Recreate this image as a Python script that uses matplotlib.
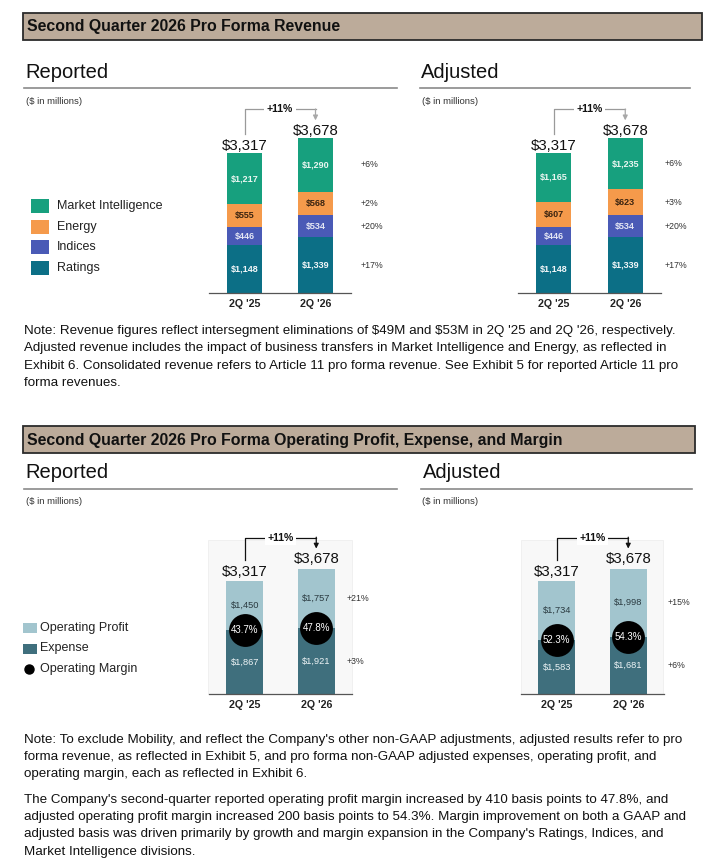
"""
Second Quarter 2026 pro forma revenue / operating profit panels
"""
import matplotlib
matplotlib.use("Agg")
import matplotlib.pyplot as plt
from matplotlib import font_manager
from matplotlib.patches import Rectangle

plt.rcParams['font.family'] = ['Liberation Sans', 'DejaVu Sans']
plt.rcParams['text.parse_math'] = False

# ==================== DATA ====================
periods = ["2Q '25", "2Q '26"]
segments = ['Ratings', 'Indices', 'Energy', 'Market Intelligence']  # bottom -> top

rev_reported = {
    'Ratings': [1148, 1339],
    'Indices': [446, 534],
    'Energy': [555, 568],
    'Market Intelligence': [1217, 1290],
}
rev_adjusted = {
    'Ratings': [1148, 1339],
    'Indices': [446, 534],
    'Energy': [607, 623],
    'Market Intelligence': [1165, 1235],
}
rev_totals = [3317, 3678]
rev_growth_reported = {'Ratings': '+17%', 'Indices': '+20%', 'Energy': '+2%', 'Market Intelligence': '+6%'}
rev_growth_adjusted = {'Ratings': '+17%', 'Indices': '+20%', 'Energy': '+3%', 'Market Intelligence': '+6%'}

op_totals = [3317, 3678]

op_expense_reported = [1867, 1921]
op_profit_reported = [1450, 1757]
op_margin_reported = ['43.7%', '47.8%']
op_growth_reported = ['+21%', '+3%']   # profit, expense

op_expense_adjusted = [1583, 1681]
op_profit_adjusted = [1734, 1998]
op_margin_adjusted = ['52.3%', '54.3%']
op_growth_adjusted = ['+15%', '+6%']

total_growth = '+11%'

note_revenue = [
    "Note: Revenue figures reflect intersegment eliminations of $49M and $53M in 2Q '25 and 2Q '26, respectively.",
    "Adjusted revenue includes the impact of business transfers in Market Intelligence and Energy, as reflected in",
    "Exhibit 6. Consolidated revenue refers to Article 11 pro forma revenue. See Exhibit 5 for reported Article 11 pro",
    "forma revenues.",
]
note_op = [
    "Note: To exclude Mobility, and reflect the Company's other non-GAAP adjustments, adjusted results refer to pro",
    "forma revenue, as reflected in Exhibit 5, and pro forma non-GAAP adjusted expenses, operating profit, and",
    "operating margin, each as reflected in Exhibit 6.",
]
note_margin = [
    "The Company's second-quarter reported operating profit margin increased by 410 basis points to 47.8%, and",
    "adjusted operating profit margin increased 200 basis points to 54.3%. Margin improvement on both a GAAP and",
    "adjusted basis was driven primarily by growth and margin expansion in the Company's Ratings, Indices, and",
    "Market Intelligence divisions.",
]

# ==================== STYLE ====================
seg_colors = {
    'Market Intelligence': '#17a07e',
    'Energy': '#f59a4b',
    'Indices': '#4a5ab6',
    'Ratings': '#0c6f86',
}
seg_text = {
    'Market Intelligence': '#eaf6f1',
    'Energy': '#3b2410',
    'Indices': '#e4e6f4',
    'Ratings': '#f2f6f8',
}
profit_color = '#a2c5ce'
expense_color = '#3f6f7d'
header_color = '#bcab9a'

W, H = 711, 868
fig = plt.figure(figsize=(W / 100, H / 100), dpi=100)

available = {f.name for f in font_manager.fontManager.ttflist}
narrow = 'Liberation Sans Narrow' in available
note_family = ['Liberation Sans Narrow', 'DejaVu Sans'] if narrow else ['Liberation Sans', 'DejaVu Sans']
note_size = 10.3 if narrow else 9.6


def fx(x):
    return x / W


def fy(y):
    return 1 - y / H


def txt(x, y, s, **kw):
    kw.setdefault('va', 'center')
    return fig.text(fx(x), fy(y), s, **kw)


def hline(x0, x1, y, color='#8a8a8a', lw=1.2):
    fig.add_artist(plt.Line2D([fx(x0), fx(x1)], [fy(y), fy(y)], color=color, lw=lw,
                              transform=fig.transFigure))


def px_axes(x0, y0, x1, y1):
    ax = fig.add_axes([fx(x0), fy(y1), (x1 - x0) / W, (y1 - y0) / H])
    ax.set_xlim(-0.5, 1.5)
    ax.set_facecolor('none')
    for s in ['top', 'right', 'left']:
        ax.spines[s].set_visible(False)
    ax.spines['bottom'].set_color('#555555')
    ax.spines['bottom'].set_linewidth(0.9)
    ax.set_yticks([])
    ax.set_xticks([0, 1])
    ax.set_xticklabels(periods, fontsize=7.7, fontweight='bold', color='#222222')
    ax.tick_params(axis='x', length=0, pad=4)
    return ax


def header(y0, y1, x1, title):
    fig.add_artist(Rectangle((fx(23), fy(y1)), (x1 - 23) / W, (y1 - y0) / H,
                             transform=fig.transFigure, facecolor=header_color,
                             edgecolor='#2b2b2b', lw=1.3))
    txt(27, (y0 + y1) / 2 + 0.5, title, fontsize=11.4, fontweight='bold', color='#111111')


def bracket(ax, totals, color, arrow_color):
    # pixel offsets converted to data units
    ppu = ax.get_window_extent().height / ax.get_ylim()[1]
    y_start = totals[0] + 21 / ppu
    y_top = totals[1] + 31 / ppu
    y_end = totals[1] + 20 / ppu
    ax.plot([0, 0, 1], [y_start, y_top, y_top], color=color, lw=0.9, clip_on=False)
    ax.annotate('', xy=(1, y_end), xytext=(1, y_top + 0.4 / ppu),
                arrowprops=dict(arrowstyle='-|>', color=arrow_color, lw=0.9,
                                mutation_scale=7, shrinkA=0, shrinkB=0),
                annotation_clip=False)
    ax.text(0.5, y_top, total_growth, ha='center', va='center', fontsize=7.6,
            fontweight='bold', color='#111111',
            bbox=dict(boxstyle='square,pad=0.25', facecolor='white', edgecolor='none'))


def totals_labels(ax, totals):
    for i, t in enumerate(totals):
        ax.annotate(f'${t:,.0f}', (i, t), xytext=(0, 1.5), textcoords='offset points',
                    ha='center', va='bottom', fontsize=10.8, color='#111111',
                    annotation_clip=False)


def revenue_chart(ax, data, growth, label_dx):
    bottom = [0, 0]
    for seg in segments:
        vals = data[seg]
        ax.bar([0, 1], vals, bottom=bottom, width=0.49, color=seg_colors[seg], linewidth=0)
        for i, v in enumerate(vals):
            ax.text(i, bottom[i] + v / 2, f'${v:,.0f}', ha='center', va='center',
                    fontsize=6.5, fontweight='bold', color=seg_text[seg])
        ax.text(1 + label_dx, bottom[1] + vals[1] / 2, growth[seg], ha='left', va='center',
                fontsize=6.3, color='#333333', clip_on=False)
        bottom = [b + v for b, v in zip(bottom, vals)]
    totals_labels(ax, rev_totals)
    bracket(ax, rev_totals, '#9a9a9a', '#a8a8a8')


def op_chart(ax, expense, profit, margin, growth, label_dx):
    ax.bar([0, 1], expense, width=0.52, color=expense_color, linewidth=0)
    ax.bar([0, 1], profit, bottom=expense, width=0.52, color=profit_color, linewidth=0)
    for i in range(2):
        ax.text(i, expense[i] + profit[i] / 2, f'${profit[i]:,.0f}', ha='center', va='center',
                fontsize=6.7, color='#2a3a40')
        ax.text(i, expense[i] / 2, f'${expense[i]:,.0f}', ha='center', va='center',
                fontsize=6.7, color='#eef4f6')
    ax.scatter([0, 1], expense, s=560, color='black', zorder=3, linewidths=0)
    for i in range(2):
        ax.text(i, expense[i], margin[i], ha='center', va='center', fontsize=7,
                color='white', zorder=4)
    ax.text(1 + label_dx, expense[1] + profit[1] / 2, growth[0], ha='left', va='center',
            fontsize=6.3, color='#333333', clip_on=False)
    ax.text(1 + label_dx, expense[1] / 2, growth[1], ha='left', va='center',
            fontsize=6.3, color='#333333', clip_on=False)
    totals_labels(ax, op_totals)
    bracket(ax, op_totals, '#111111', '#111111')


# ==================== REVENUE SECTION ====================
header(13, 40, 702, 'Second Quarter 2026 Pro Forma Revenue')

txt(25, 73, 'Reported', fontsize=14.5, color='#111111')
txt(421, 73, 'Adjusted', fontsize=14.5, color='#111111')
hline(24, 397, 88)
hline(420, 690, 88)
txt(26, 101, '($ in millions)', fontsize=6.8, color='#333333')
txt(422, 101, '($ in millions)', fontsize=6.8, color='#333333')

ax1 = px_axes(209, 100, 351, 293)
ax1.set_ylim(0, 193 / 0.0415)
revenue_chart(ax1, rev_reported, rev_growth_reported, 0.63)

ax2 = px_axes(518, 100, 661, 293)
ax2.set_ylim(0, 193 / 0.0415)
revenue_chart(ax2, rev_adjusted, rev_growth_adjusted, 0.55)

# legend
for k, seg in enumerate(segments[::-1]):
    yc = 206 + k * 20.6
    fig.add_artist(Rectangle((fx(31), fy(yc + 7)), 18 / W, 14 / H, transform=fig.transFigure,
                             facecolor=seg_colors[seg], edgecolor='none'))
    txt(57, yc, seg, fontsize=9, color='#222222')

for k, line in enumerate(note_revenue):
    txt(24, 331 + k * 17.3, line, fontsize=note_size, family=note_family, color='#111111')

# ==================== OPERATING PROFIT SECTION ====================
header(426, 453, 695, 'Second Quarter 2026 Pro Forma Operating Profit, Expense, and Margin')

txt(25, 472, 'Reported', fontsize=14.5, color='#111111')
txt(423, 472, 'Adjusted', fontsize=14.5, color='#111111')
hline(24, 397, 489)
hline(421, 692, 489)
txt(26, 501, '($ in millions)', fontsize=6.8, color='#333333')
txt(422, 501, '($ in millions)', fontsize=6.8, color='#333333')

for x0, x1 in [(208, 352), (521, 663)]:
    fig.add_artist(Rectangle((fx(x0), fy(694)), (x1 - x0) / W, 154 / H, transform=fig.transFigure,
                             facecolor='#f8f8f8', edgecolor='#efefef', lw=0.6, zorder=0))

ax3 = px_axes(209, 515, 352, 694)
ax3.set_ylim(0, 179 / 0.0341)
op_chart(ax3, op_expense_reported, op_profit_reported, op_margin_reported, op_growth_reported, 0.42)

ax4 = px_axes(521, 515, 664, 694)
ax4.set_ylim(0, 179 / 0.0341)
op_chart(ax4, op_expense_adjusted, op_profit_adjusted, op_margin_adjusted, op_growth_adjusted, 0.55)

# legend
op_legend = [('Operating Profit', profit_color), ('Expense', expense_color)]
for k, (name, col) in enumerate(op_legend):
    yc = 628 + k * 20.5
    fig.add_artist(Rectangle((fx(23), fy(yc + 5)), 14 / W, 10 / H, transform=fig.transFigure,
                             facecolor=col, edgecolor='none'))
    txt(40, yc, name, fontsize=9, color='#222222')
fig.add_artist(plt.Line2D([fx(29)], [fy(669)], marker='o', markersize=6.5, color='black',
                          transform=fig.transFigure))
txt(40, 669, 'Operating Margin', fontsize=9, color='#222222')

for k, line in enumerate(note_op):
    txt(24, 740 + k * 17.2, line, fontsize=note_size, family=note_family, color='#111111')
for k, line in enumerate(note_margin):
    txt(24, 800 + k * 17.2, line, fontsize=note_size, family=note_family, color='#111111')

plt.savefig('out.png', dpi=100)
plt.close()
